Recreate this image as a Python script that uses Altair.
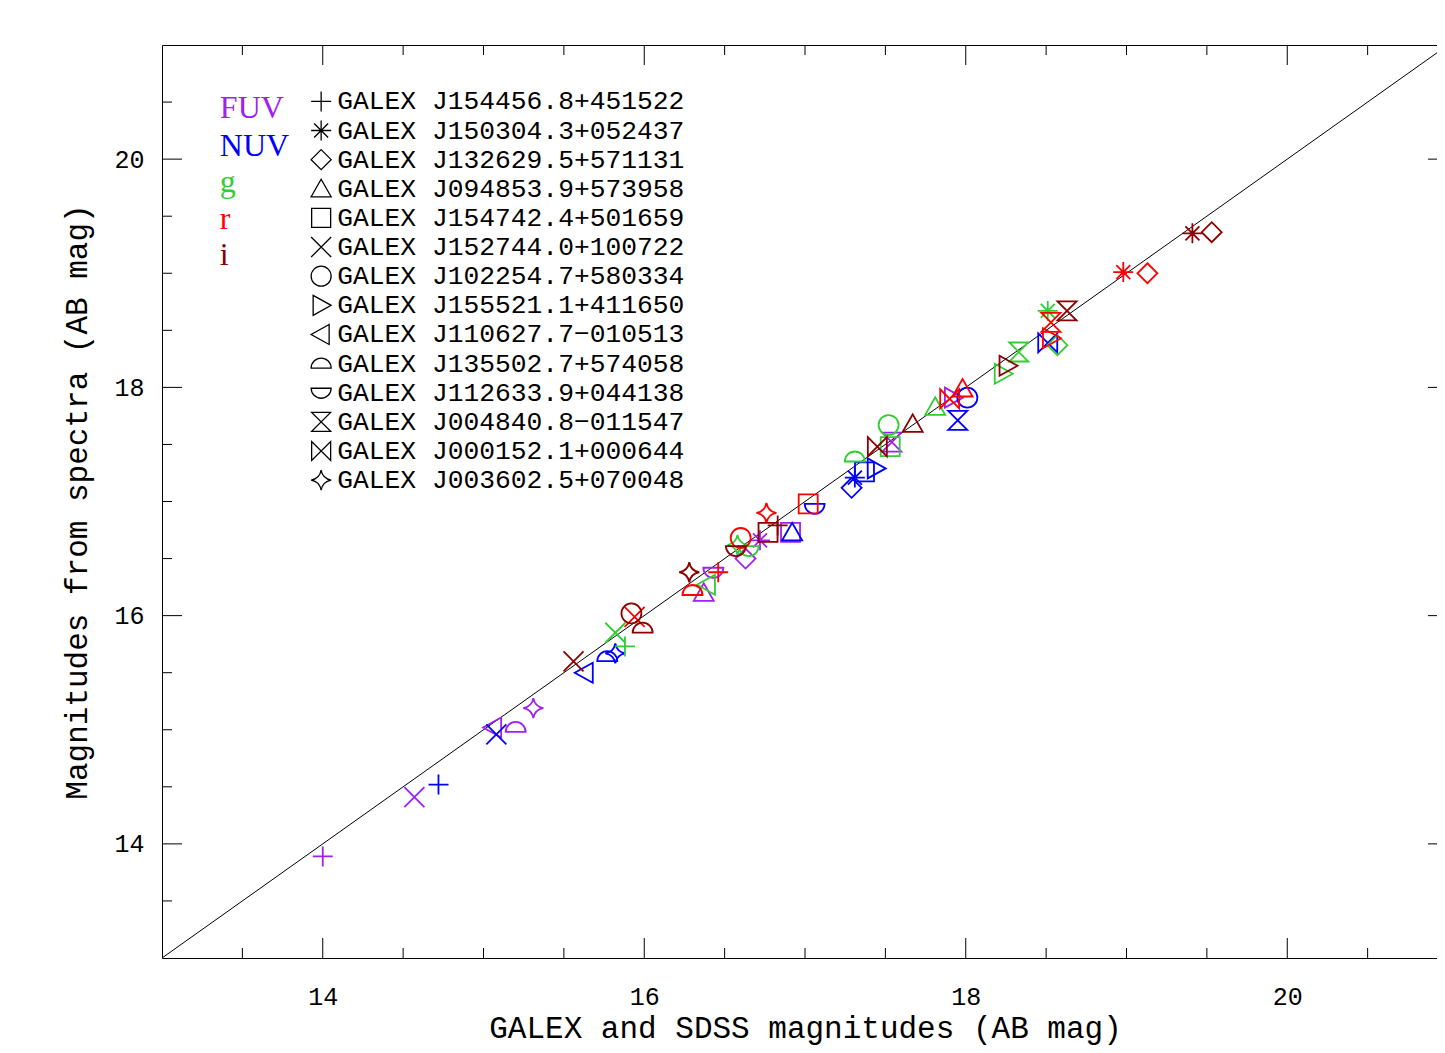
import altair as alt
import pandas as pd

# ---------------- data ----------------
names = [
    "GALEX J154456.8+451522", "GALEX J150304.3+052437", "GALEX J132629.5+571131",
    "GALEX J094853.9+573958", "GALEX J154742.4+501659", "GALEX J152744.0+100722",
    "GALEX J102254.7+580334", "GALEX J155521.1+411650", "GALEX J110627.7\u2212010513",
    "GALEX J135502.7+574058", "GALEX J112633.9+044138", "GALEX J004840.8\u2212011547",
    "GALEX J000152.1+000644", "GALEX J003602.5+070048",
]
bands = ["FUV", "NUV", "g", "r", "i"]
band_colors = ["#A020F0", "#0000FF", "#32CD32", "#FF0000", "#8B0000"]

FUV_x = [14.00, 16.72, 16.63, 16.37, 16.91, 14.57, None, 17.92, 15.06, 15.20, 16.43, 17.54, None, 15.31]
FUV_y = [13.89, 16.66, 16.50, 16.20, 16.73, 14.41, None, 17.91, 15.02, 15.02, 16.38, 17.52, None, 15.19]
NUV_x = [14.72, 17.31, 17.29, 16.92, 17.37, 15.08, 18.01, 17.44, 15.63, 15.77, 17.06, 17.95, 18.51, 15.82]
NUV_y = [14.52, 17.21, 17.12, 16.73, 17.26, 14.96, 17.91, 17.29, 15.50, 15.64, 16.94, 17.71, 18.39, 15.67]
g_x = [15.88, 18.51, 18.57, 17.81, 17.53, 15.82, 17.52, 18.23, 16.39, 17.31, 16.65, 18.33, None, 16.58]
g_y = [15.73, 18.67, 18.37, 17.83, 17.48, 15.85, 17.67, 18.12, 16.27, 17.39, 16.57, 18.31, None, 16.62]
r_x = [16.46, 18.98, 19.13, 17.98, 17.02, 15.94, 16.60, 18.53, None, 16.30, None, 18.53, 17.90, 16.76]
r_y = [16.38, 19.01, 19.00, 17.99, 16.98, 15.99, 16.68, 18.43, None, 16.22, None, 18.57, 17.90, 16.90]
i_x = [16.83, 19.41, 19.53, 17.67, 16.77, 15.56, 15.92, 18.26, None, 15.99, 16.57, 18.63, 17.45, 16.28]
i_y = [16.79, 19.35, 19.36, 17.68, 16.73, 15.60, 16.02, 18.19, None, 15.89, 16.57, 18.67, 17.48, 16.38]

x_tick_labels = [14, 16, 18, 20]
y_tick_labels = [14, 16, 18, 20]
minor_ticks = [13.5, 14.5, 15, 15.5, 16.5, 17, 17.5, 18.5, 19, 19.5, 20.5]

# legend layout (in data units)
legend_sym_x = 13.99
legend_txt_x = 14.09
legend_y_top = 20.506
legend_step = 0.2553
band_label_x = 13.36
band_label_y = [20.36, 20.03, 19.71, 19.39, 19.07]

# ---------------- shapes ----------------
shape_paths = [
    "M-1,0L1,0M0,-1L0,1",                                          # plus
    "M-1,0L1,0M0,-1L0,1M-0.7,-0.7L0.7,0.7M-0.7,0.7L0.7,-0.7",      # asterisk
    "M0,-1L1,0L0,1L-1,0Z",                                         # diamond
    "M0,-0.95L1,0.8L-1,0.8Z",                                      # triangle up
    "M-0.95,-0.95L0.95,-0.95L0.95,0.95L-0.95,0.95Z",               # square
    "M-1,-1L1,1M-1,1L1,-1",                                        # x
    "circle",                                                      # circle
    "M-0.8,-1L1,0L-0.8,1Z",                                        # triangle right
    "M0.8,-1L-1,0L0.8,1Z",                                         # triangle left
    "M-1,0.45A1,1 0 0 1 1,0.45Z",                                  # upper half disc
    "M-1,-0.45A1,1 0 0 0 1,-0.45Z",                                # lower half disc
    "M-0.95,-0.95L0.95,-0.95L-0.95,0.95L0.95,0.95Z",               # hourglass
    "M-0.95,-0.95L-0.95,0.95L0.95,-0.95L0.95,0.95Z",               # bowtie
    "M0,-1Q0.15,-0.15 1,0Q0.15,0.15 0,1Q-0.15,0.15 -1,0Q-0.15,-0.15 0,-1Z",  # 4-point star
]

band_data = {"FUV": (FUV_x, FUV_y), "NUV": (NUV_x, NUV_y), "g": (g_x, g_y),
             "r": (r_x, r_y), "i": (i_x, i_y)}
rows = []
for b in bands:
    xs, ys = band_data[b]
    for k, nm in enumerate(names):
        if xs[k] is not None:
            rows.append({"obj": nm, "band": b, "x": xs[k], "y": ys[k]})
pts = pd.DataFrame(rows)

W, H = 1286, 913
XD = [13, 21]
YD = [13, 21]
FONT = "Liberation Mono"

xscale = alt.Scale(domain=XD, nice=False, zero=False)
yscale = alt.Scale(domain=YD, nice=False, zero=False)
shape_scale = alt.Scale(domain=names, range=shape_paths)
color_scale = alt.Scale(domain=bands, range=band_colors)

xaxis = alt.Axis(values=x_tick_labels, ticks=False, domain=False, grid=False,
                 labelFont=FONT, labelFontSize=25, labelPadding=26, labelColor="black",
                 title="GALEX and SDSS magnitudes (AB mag)", titleFont=FONT,
                 titleFontSize=31, titleFontWeight="normal", titleBaseline="alphabetic",
                 titleY=79, titleColor="black", format="d")
yaxis = alt.Axis(values=y_tick_labels, ticks=False, domain=False, grid=False,
                 labelFont=FONT, labelFontSize=25, labelPadding=18, labelColor="black",
                 title="Magnitudes from spectra (AB mag)", titleFont=FONT,
                 titleFontSize=31, titleFontWeight="normal", titlePadding=20, titleColor="black",
                 format="d")

diag = alt.Chart(pd.DataFrame({"x": [XD[0], XD[1]], "y": [YD[0], YD[1]]})).mark_line(
    color="black", strokeWidth=1, clip=True
).encode(x=alt.X("x:Q", scale=xscale, axis=xaxis), y=alt.Y("y:Q", scale=yscale, axis=yaxis))

points = alt.Chart(pts).mark_point(filled=False, size=400, strokeWidth=1.8, opacity=1, clip=True).encode(
    x=alt.X("x:Q", scale=xscale),
    y=alt.Y("y:Q", scale=yscale),
    color=alt.Color("band:N", scale=color_scale, legend=None),
    shape=alt.Shape("obj:N", scale=shape_scale, legend=None),
)

leg = pd.DataFrame({"obj": names, "idx": list(range(len(names)))})
leg_base = alt.Chart(leg).transform_calculate(
    ly=f"{legend_y_top} - datum.idx * {legend_step}",
    sx=f"{legend_sym_x}", tx=f"{legend_txt_x}",
)
leg_sym = leg_base.mark_point(filled=False, size=400, strokeWidth=1.3, opacity=1, color="black").encode(
    x=alt.X("sx:Q", scale=xscale), y=alt.Y("ly:Q", scale=yscale),
    shape=alt.Shape("obj:N", scale=shape_scale, legend=None),
)
leg_txt = leg_base.mark_text(align="left", baseline="middle", font=FONT, fontSize=26.3, color="black").encode(
    x=alt.X("tx:Q", scale=xscale), y=alt.Y("ly:Q", scale=yscale), text="obj:N",
)

bl = pd.DataFrame({"band": bands, "x": [band_label_x] * 5, "y": band_label_y})
band_txt = alt.Chart(bl).mark_text(align="left", baseline="alphabetic", font="Liberation Serif", fontSize=32).encode(
    x=alt.X("x:Q", scale=xscale), y=alt.Y("y:Q", scale=yscale), text="band:N",
    color=alt.Color("band:N", scale=color_scale, legend=None),
)

maj = pd.DataFrame({"v": x_tick_labels})
mnr = pd.DataFrame({"v": minor_ticks})
tk = []
for df, L in ((maj, 20), (mnr, 10)):
    tk.append(alt.Chart(df).mark_rule(color="black", strokeWidth=1).encode(
        x=alt.X("v:Q", scale=xscale), y=alt.value(H), y2=alt.value(H - L)))
    tk.append(alt.Chart(df).mark_rule(color="black", strokeWidth=1).encode(
        x=alt.X("v:Q", scale=xscale), y=alt.value(0), y2=alt.value(L)))
    tk.append(alt.Chart(df).mark_rule(color="black", strokeWidth=1).encode(
        y=alt.Y("v:Q", scale=yscale), x=alt.value(0), x2=alt.value(L)))
    tk.append(alt.Chart(df).mark_rule(color="black", strokeWidth=1).encode(
        y=alt.Y("v:Q", scale=yscale), x=alt.value(W), x2=alt.value(W - L)))

chart = alt.layer(diag, *tk, points, leg_sym, leg_txt, band_txt).properties(
    width=W, height=H,
    padding={"left": 154, "top": 37, "right": -11, "bottom": 87},
    autosize=alt.AutoSizeParams(type="none"),
    background="white",
).configure_view(stroke="black", strokeWidth=1)

chart.save("out.html", embed_options={"renderer": "svg", "actions": False})
